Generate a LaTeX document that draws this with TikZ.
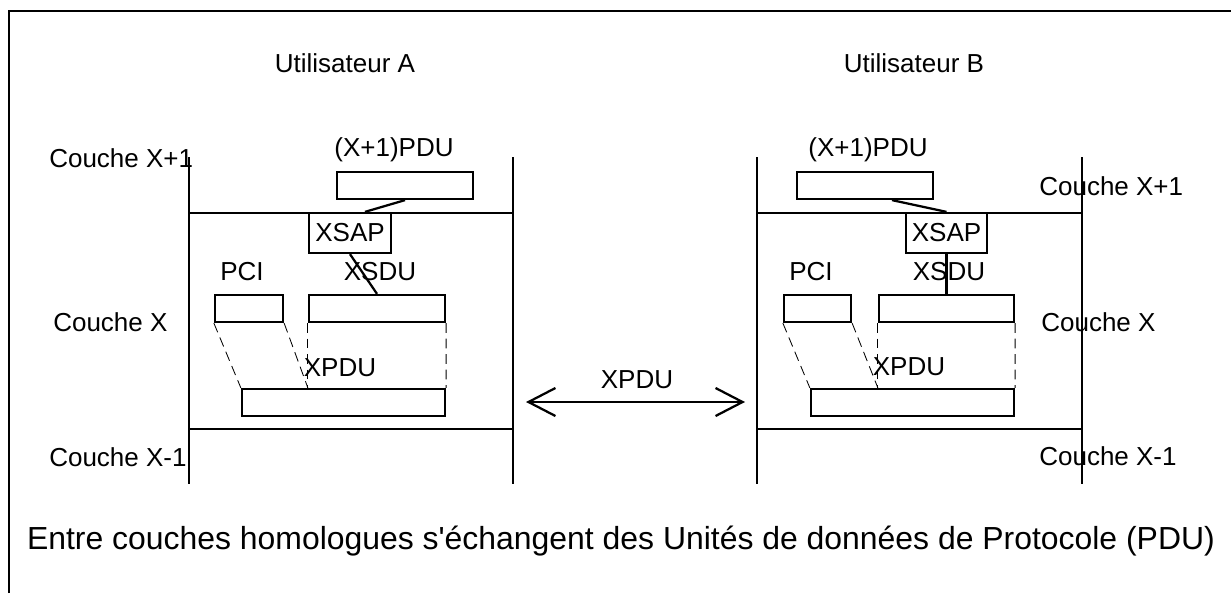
\documentclass[tikz,border=0pt]{standalone}
\usepackage{fontspec}
\setmainfont{Liberation Sans}[Ligatures=TeXOff]
\usepackage{tikz}
\usetikzlibrary{arrows.meta,positioning,calc}

\begin{document}
\begin{tikzpicture}[x=0.025cm, y=-0.025cm,
    lbl/.style={inner sep=0pt, font=\fontsize{18.5}{22}\selectfont},
    pdubox/.style={draw, line width=1.6pt, inner sep=0pt, minimum height=0.675cm},
    sapbox/.style={draw, line width=1.6pt, inner sep=0pt, minimum height=1cm,
        font=\fontsize{18.5}{22}\selectfont},
    layer/.style={line width=1.6pt},
    link/.style={line width=1.6pt},
    proj/.style={line width=0.6pt, dash pattern=on 7pt off 4pt}]
    \useasboundingbox (0,0) rectangle (1231,593);

    % Frame
    \draw[line width=2pt] (9,593) -- (9,11) -- (1231,11);

    % Users
    \node[lbl] (userA) at (345,63) {Utilisateur A};
    \node[lbl] (userB) at (914,63) {Utilisateur B};

    % Layer boundaries
    \draw[layer] (189,157) -- (189,484);
    \draw[layer] (513,157) -- (513,484);
    \draw[layer] (189,213) -- (513,213);
    \draw[layer] (189,429) -- (513,429);
    \draw[layer] (757,157) -- (757,484);
    \draw[layer] (1082,157) -- (1082,484);
    \draw[layer] (757,213) -- (1082,213);
    \draw[layer] (757,429) -- (1082,429);

    % Layer names
    \node[lbl, anchor=west] (upA) at (49,158) {Couche X+1};
    \node[lbl, anchor=west] (midA) at (53,322) {Couche X};
    \node[lbl, anchor=west] (lowA) at (49,457) {Couche X-1};
    \node[lbl, anchor=west] (upB) at (1039,186) {Couche X+1};
    \node[lbl, anchor=west] (midB) at (1041,322) {Couche X};
    \node[lbl, anchor=west] (lowB) at (1039,456) {Couche X-1};

    % User A
    \node[lbl] (pdulblA) at (394,150) {(X+1)PDU};
    \node[pdubox, minimum width=3.4cm] (pduA) at (405,185.5) {};
    \node[sapbox, minimum width=2.05cm] (sapA) at (350,233) {XSAP};
    \node[lbl] (pcilblA) at (242,272) {PCI};
    \node[lbl] (sdulblA) at (380,272) {XSDU};
    \node[pdubox, minimum width=1.7cm] (pciA) at (249,308.5) {};
    \node[pdubox, minimum width=3.4cm] (sduA) at (377,308.5) {};
    \node[lbl] (xpdulblA) at (340,368) {XPDU};
    \node[pdubox, minimum width=5.075cm] (xpduA) at (343.5,402.5) {};

    \draw[link] (pduA.south) -- ($(sapA.north)+(15,0)$);
    \draw[link] (sapA.south) -- (sduA.north);
    \draw[proj] (pciA.south west) -- (xpduA.north west);
    \draw[proj] (pciA.south east) -- (sduA.south west |- xpduA.north);
    \draw[proj] (sduA.south west) -- (sduA.south west |- xpduA.north);
    \draw[proj] (sduA.south east) -- (xpduA.north east);

    % User B
    \node[lbl] (pdulblB) at (868,150) {(X+1)PDU};
    \node[pdubox, minimum width=3.4cm] (pduB) at (865,185.5) {};
    \node[sapbox, minimum width=2.025cm] (sapB) at (946.5,233) {XSAP};
    \node[lbl] (pcilblB) at (811,272) {PCI};
    \node[lbl] (sdulblB) at (949,272) {XSDU};
    \node[pdubox, minimum width=1.675cm] (pciB) at (817.5,308.5) {};
    \node[pdubox, minimum width=3.375cm] (sduB) at (946.5,308.5) {};
    \node[lbl] (xpdulblB) at (909,367) {XPDU};
    \node[pdubox, minimum width=5.075cm] (xpduB) at (912.5,402.5) {};

    \draw[link] ($(pduB.south)+(27,0)$) -- (sapB.north);
    \draw[link] (sapB.south) -- (sduB.north);
    \draw[proj] (pciB.south west) -- (xpduB.north west);
    \draw[proj] (pciB.south east) -- (sduB.south west |- xpduB.north);
    \draw[proj] (sduB.south west) -- (sduB.south west |- xpduB.north);
    \draw[proj] (sduB.south east) -- (xpduB.north east);

    % Peer exchange
    \coordinate (peerA) at (526,402);
    \coordinate (peerB) at (745,402);
    \draw[line width=1.6pt, {Straight Barb[length=0.675cm, width=0.7cm]}-{Straight Barb[length=0.675cm, width=0.7cm]}]
        (peerA) -- (peerB);
    \node[lbl] (peerlbl) at (637,380) {XPDU};

    % Caption
    \node[inner sep=0pt, font=\fontsize{22.7}{27}\selectfont] (caption) at (621,541)
        {Entre couches homologues s'échangent des Unités de données de Protocole (PDU)};
\end{tikzpicture}
\end{document}
